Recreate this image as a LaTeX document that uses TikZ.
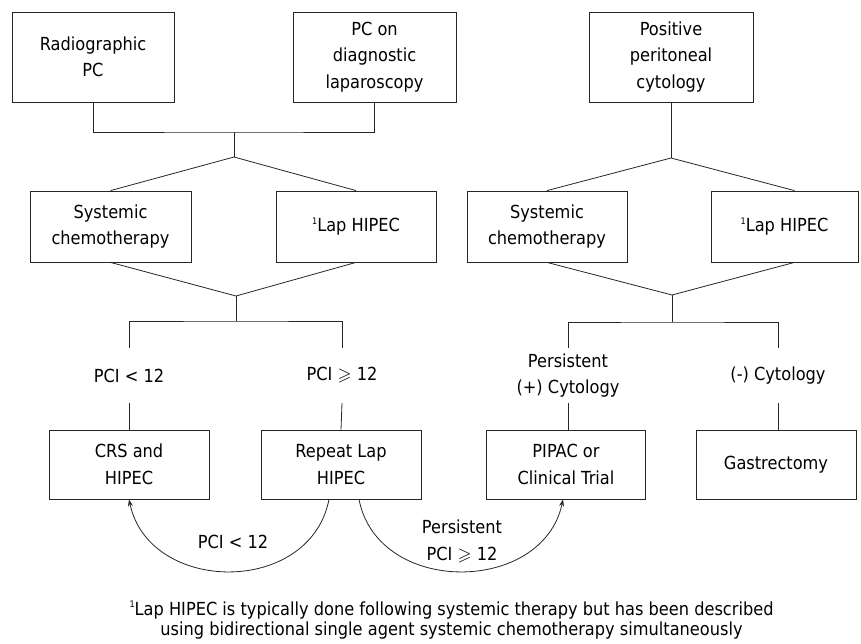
\documentclass[tikz,border=0pt]{standalone}
\usepackage{fontspec}
\setmainfont{DejaVu Sans}[FakeStretch=0.9]
\usepackage{amssymb}
\usetikzlibrary{arrows.meta}
\newcommand\fnmark{\raisebox{0.75ex}{\fontsize{9}{9}\selectfont 1}}
\begin{document}
\begin{tikzpicture}[x=1pt,y=-1pt,
  box/.style={draw=black!85,line width=0.8pt,align=center,inner sep=0pt,
    font=\fontsize{18}{26.5}\selectfont},
  lab/.style={align=center,inner sep=0pt,minimum height=55pt,
    font=\fontsize{18}{26.5}\selectfont},
  txt/.style={align=center,inner sep=0pt,font=\fontsize{18}{26.5}\selectfont},
  conn/.style={draw=black!85,line width=0.8pt},
  arr/.style={conn,-{Stealth[length=7pt,width=5pt]}}]
\useasboundingbox (0,0) rectangle (861,644);
% top row
\node[box,minimum width=162pt,minimum height=90pt] (rad) at (93,57) {Radiographic\\PC};
\node[box,minimum width=163pt,minimum height=90pt] (pcd) at (374.5,57) {PC on\\diagnostic\\laparoscopy};
\node[box,minimum width=164pt,minimum height=90pt] (pos) at (671,57) {Positive\\peritoneal\\cytology};
% middle row
\node[box,minimum width=161pt,minimum height=71pt] (sysA) at (110.5,226.5) {Systemic\\chemotherapy};
\node[box,minimum width=160pt,minimum height=71pt] (lapA) at (356,226.5) {\fnmark Lap HIPEC};
\node[box,minimum width=160pt,minimum height=71pt] (sysB) at (547,226.5) {Systemic\\chemotherapy};
\node[box,minimum width=147pt,minimum height=71pt] (lapB) at (784.5,226.5) {\fnmark Lap HIPEC};
% labels
\node[lab] (lA) at (129,375.5) {PCI < 12};
\node[lab] (lB) at (342,375.5) {PCI $\geqslant$ 12};
\node[lab] (lC) at (568,375.5) {Persistent\\(+) Cytology};
\node[lab] (lD) at (778,375.5) {(-) Cytology};
% bottom row
\node[box,minimum width=160pt,minimum height=69pt] (crs) at (129,464.5) {CRS and\\HIPEC};
\node[box,minimum width=160pt,minimum height=69pt] (rep) at (341,464.5) {Repeat Lap\\HIPEC};
\node[box,minimum width=159pt,minimum height=69pt] (pip) at (566,464.5) {PIPAC or\\Clinical Trial};
\node[box,minimum width=160pt,minimum height=69pt] (gas) at (776,464.5) {Gastrectomy};
% junctions
\coordinate (jA) at (234,132);
\coordinate (kA) at (234,157);
\coordinate (mA) at (236,296);
\coordinate (nA) at (236,321);
\coordinate (kB) at (671,158);
\coordinate (mB) at (672,295);
\coordinate (nB) at (672,322);
% connectors left
\draw[conn] (rad.south) |- (jA) -| (pcd.south);
\draw[conn] (jA) -- (kA);
\draw[conn] (sysA.north) -- (kA) -- (lapA.north);
\draw[conn] (sysA.south) -- (mA) -- (lapA.south);
\draw[conn] (mA) -- (nA);
\draw[conn] (lA.north) |- (nA) -| (lB.north);
\draw[conn] (lA.south) -- (crs.north);
\draw[conn] (lB.south) -- (rep.north);
% connectors right
\draw[conn] (pos.south) -- (kB);
\draw[conn] (sysB.north) -- (kB) -- ([xshift=10pt]lapB.north);
\draw[conn] (sysB.south) -- (mB) -- ([xshift=10pt]lapB.south);
\draw[conn] (mB) -- (nB);
\draw[conn] (lC.north) |- (nB) -| (lD.north);
\draw[conn] (lC.south) -- (lC.south |- pip.north);
\draw[conn] (lD.south) -- (lD.south |- gas.north);
% curved arrows
\draw[arr] ([xshift=-12pt]rep.south) .. controls +(-19,97) and +(20,95) .. (crs.south);
\draw[arr] ([xshift=18pt]rep.south) .. controls +(19,97) and +(-20,95) .. ([xshift=-3pt]pip.south);
\node[txt] (cA) at (233,542) {PCI < 12};
\node[txt] (cB) at (462,541.5) {Persistent\\PCI $\geqslant$ 12};
% footnote
\node[align=center,inner sep=0pt,font=\fontsize{18}{20}\selectfont] (fn) at (451.5,620)
  {\fnmark Lap HIPEC is typically done following systemic therapy but has been described\\
   using bidirectional single agent systemic chemotherapy simultaneously};
\end{tikzpicture}
\end{document}
